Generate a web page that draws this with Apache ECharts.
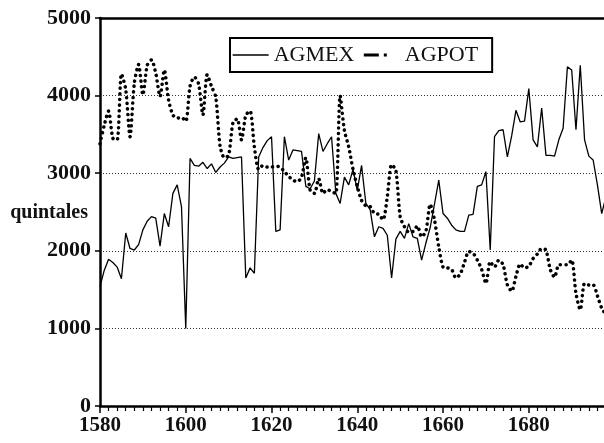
<!DOCTYPE html>
<html>
<head>
<meta charset="utf-8">
<script src="https://cdn.jsdelivr.net/npm/echarts/dist/echarts.min.js"></script>
<style>
  html, body { margin: 0; padding: 0; background: #fff; }
  #chart { width: 604px; height: 443px; }
</style>
</head>
<body>
<div id="chart"></div>
<script>
// años 1580 - 1698
var years = [
  1580, 1581, 1582, 1583, 1584, 1585, 1586, 1587, 1588, 1589,
  1590, 1591, 1592, 1593, 1594, 1595, 1596, 1597, 1598, 1599,
  1600, 1601, 1602, 1603, 1604, 1605, 1606, 1607, 1608, 1609,
  1610, 1611, 1612, 1613, 1614, 1615, 1616, 1617, 1618, 1619,
  1620, 1621, 1622, 1623, 1624, 1625, 1626, 1627, 1628, 1629,
  1630, 1631, 1632, 1633, 1634, 1635, 1636, 1637, 1638, 1639,
  1640, 1641, 1642, 1643, 1644, 1645, 1646, 1647, 1648, 1649,
  1650, 1651, 1652, 1653, 1654, 1655, 1656, 1657, 1658, 1659,
  1660, 1661, 1662, 1663, 1664, 1665, 1666, 1667, 1668, 1669,
  1670, 1671, 1672, 1673, 1674, 1675, 1676, 1677, 1678, 1679,
  1680, 1681, 1682, 1683, 1684, 1685, 1686, 1687, 1688, 1689,
  1690, 1691, 1692, 1693, 1694, 1695, 1696, 1697, 1698
];

var agmex = [
  1540, 1750, 1890, 1850, 1790, 1640, 2230, 2030, 2010, 2080,
  2270, 2380, 2440, 2420, 2060, 2480, 2310, 2740, 2850, 2570,
  1000, 3190, 3100, 3090, 3140, 3060, 3120, 3010, 3080, 3130,
  3210, 3190, 3200, 3210, 1650, 1780, 1710, 3210, 3330, 3420,
  3470, 2250, 2270, 3470, 3170, 3300, 3290, 3280, 2830, 2800,
  2900, 3510, 3280, 3380, 3470, 2740, 2610, 2950, 2850, 3050,
  2780, 3100, 2610, 2530, 2180, 2310, 2290, 2200, 1650, 2150,
  2250, 2160, 2350, 2180, 2160, 1880, 2100, 2300, 2600, 2910,
  2480, 2420, 2330, 2270, 2250, 2250, 2460, 2470, 2830, 2850,
  3020, 2010, 3470, 3550, 3560, 3210, 3480, 3810, 3660, 3670,
  4090, 3430, 3340, 3840, 3230, 3230, 3220, 3430, 3580, 4370,
  4330, 3560, 4390, 3430, 3220, 3170, 2850, 2480, 2700
];

var agpot = [
  3380, 3620, 3800, 3450, 3430, 4280, 4080, 3470, 4160, 4400,
  4010, 4390, 4460, 4290, 3990, 4330, 3940, 3750, 3710, 3720,
  3670, 4120, 4240, 4150, 3750, 4270, 4120, 3980, 3350, 3200,
  3230, 3650, 3700, 3430, 3750, 3800, 3340, 3050, 3100, 3080,
  3080, 3090, 3080, 3020, 2960, 2910, 2890, 2950, 3200, 2780,
  2740, 2930, 2740, 2790, 2760, 2740, 4000, 3550, 3340, 3050,
  2830, 2650, 2580, 2570, 2480, 2470, 2400, 2700, 3110, 3040,
  2440, 2310, 2240, 2250, 2320, 2180, 2250, 2600, 2400, 2050,
  1790, 1780, 1760, 1650, 1700, 1850, 1990, 1970, 1880, 1760,
  1580, 1860, 1790, 1880, 1820, 1560, 1480, 1670, 1830, 1780,
  1800, 1900, 1960, 2030, 2010, 1760, 1660, 1820, 1820, 1820,
  1880, 1450, 1240, 1580, 1560, 1560, 1420, 1260, 1180
];

function pairs(vals) {
  var out = [];
  for (var i = 0; i < vals.length; i++) {
    out.push([years[i], vals[i]]);
  }
  return out;
}

var serif = 'Liberation Serif';
var hidden = { color: 'rgba(0,0,0,0)', borderColor: 'rgba(0,0,0,0)', borderWidth: 0 };
var chart = echarts.init(document.getElementById('chart'));

var option = {
  backgroundColor: '#fff',
  animation: false,
  grid: { left: 100, right: -2, top: 18, bottom: 37, containLabel: false, outerBoundsMode: 'none' },
  // titulo del eje y (unidades)
  graphic: [
    {
      type: 'text',
      right: 516,
      top: 203,
      style: {
        text: 'quintales',
        fontFamily: serif, fontSize: 20, fontWeight: 'bold',
        fill: '#111'
      }
    }
  ],
  legend: {
    left: 230,
    top: 38,
    orient: 'horizontal',
    padding: [6, 14, 6, 2],
    borderColor: '#000',
    borderWidth: 2,
    itemWidth: 36,
    itemHeight: 22,
    itemGap: 8,
    itemTextGap: 7,
    textStyle: { fontFamily: serif, fontSize: 22, color: '#111' },
    data: [
      { name: 'AGMEX', itemStyle: hidden, lineStyle: { color: '#000', width: 1.3, type: 'solid' } },
      { name: 'AGPOT', itemStyle: hidden, lineStyle: { color: '#000', width: 3, type: [15, 5, 3, 13], cap: 'butt' } }
    ]
  },
  xAxis: [
    {
      type: 'value',
      min: 1580,
      max: 1698,
      interval: 20,
      axisLine: { lineStyle: { color: '#000', width: 2.5 } },
      axisTick: { length: 7, lineStyle: { color: '#000', width: 1.5 } },
      minorTick: { show: true, splitNumber: 10, length: 5, lineStyle: { color: '#000', width: 1.2 } },
      axisLabel: {
        margin: 9,
        fontFamily: serif, fontSize: 21, fontWeight: 'bold', color: '#111',
        formatter: function (v) { return v >= 1698 ? '' : String(v); }
      },
      splitLine: { show: false }
    },
    {
      type: 'value',
      position: 'top',
      min: 1580,
      max: 1698,
      axisLine: { show: true, lineStyle: { color: '#000', width: 2.5 } },
      axisTick: { show: false },
      axisLabel: { show: false },
      splitLine: { show: false }
    }
  ],
  yAxis: {
    type: 'value',
    min: 0,
    max: 5000,
    interval: 1000,
    axisLine: { show: true, lineStyle: { color: '#000', width: 2.5 } },
    axisTick: { show: true, length: 5, lineStyle: { color: '#000', width: 1.5 } },
    axisLabel: {
      margin: 9, fontFamily: serif, fontSize: 22, fontWeight: 'bold', color: '#111',
      formatter: function (v) { return String(v); }
    },
    splitLine: {
      show: true,
      lineStyle: { color: '#333', width: 1, type: [1, 2] }
    }
  },
  series: [
    {
      name: 'AGMEX',
      type: 'line',
      xAxisIndex: 0,
      symbol: 'none',
      data: pairs(agmex),
      lineStyle: { color: '#000', width: 1.3 },
      itemStyle: { color: '#000' },
      z: 3
    },
    {
      name: 'AGPOT',
      type: 'line',
      xAxisIndex: 0,
      symbol: 'none',
      smooth: 0.25,
      data: pairs(agpot),
      lineStyle: { color: '#000', width: 3.5, type: [0.1, 5.5], cap: 'round' },
      itemStyle: { color: '#000' },
      z: 2
    }
  ]
};

chart.setOption(option);
</script>
</body>
</html>
